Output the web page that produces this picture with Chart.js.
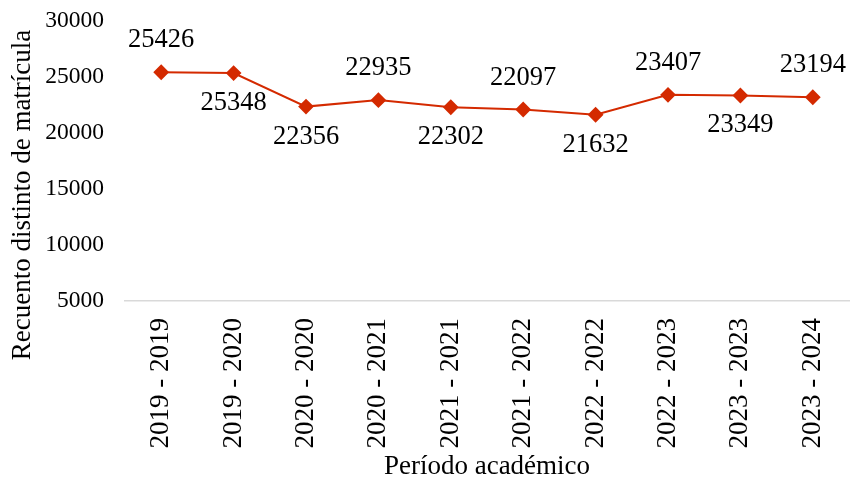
<!DOCTYPE html>
<html>
<head>
<meta charset="utf-8">
<script src="https://cdn.jsdelivr.net/npm/chart.js@4/dist/chart.umd.min.js"></script>
<style>
html,body{margin:0;padding:0;background:#fff;}
#wrap{width:850px;height:481px;position:relative;}
</style>
</head>
<body>
<div id="wrap"><canvas id="c" width="850" height="481"></canvas></div>
<script>
const categories = ["2019 - 2019","2019 - 2020","2020 - 2020","2020 - 2021","2021 - 2021","2021 - 2022","2022 - 2022","2022 - 2023","2023 - 2023","2023 - 2024"];
const values = [25426,25348,22356,22935,22302,22097,21632,23407,23349,23194];
const labelSide = ["above","below","below","above","below","above","below","above","below","above"];
const yTicks = [5000,10000,15000,20000,25000,30000];
const yTitle = "Recuento distinto de matrícula";
const xTitle = "Período académico";

const FONT = "'Liberation Serif', 'Times New Roman', serif";
const RED = "#d42a00";

const labelPlugin = {
  id: 'valueLabels',
  afterDatasetsDraw(chart) {
    const ctx = chart.ctx;
    const meta = chart.getDatasetMeta(0);
    ctx.save();
    ctx.font = "26.5px " + FONT;
    ctx.fillStyle = "#000";
    ctx.textAlign = "center";
    ctx.textBaseline = "alphabetic";
    meta.data.forEach((pt, i) => {
      const y = labelSide[i] === "above" ? pt.y - 25 : pt.y + 37;
      ctx.fillText(String(values[i]), pt.x, y);
    });
    // axis titles
    ctx.font = "27px " + FONT;
    ctx.textBaseline = "middle";
    const xs = chart.scales.x;
    ctx.fillText(xTitle, (xs.left + xs.right) / 2, 467);
    ctx.translate(23, 195);
    ctx.rotate(-Math.PI / 2);
    ctx.fillText(yTitle, 0, 0);
    ctx.restore();
  }
};

new Chart(document.getElementById('c'), {
  type: 'line',
  data: {
    labels: categories,
    datasets: [{
      data: values,
      borderColor: RED,
      backgroundColor: RED,
      borderWidth: 2,
      pointStyle: 'rectRot',
      pointRadius: 6.5,
      pointHoverRadius: 6.5,
      pointBackgroundColor: RED,
      pointBorderColor: RED,
      tension: 0,
      clip: false
    }]
  },
  options: {
    responsive: false,
    animation: false,
    events: [],
    layout: { autoPadding: false, padding: { top: 21, right: 1, left: 0, bottom: 0 } },
    plugins: { legend: { display: false }, tooltip: { enabled: false } },
    scales: {
      x: {
        offset: true,
        grid: { display: false, drawTicks: false },
        border: { display: true, color: "#d9d9d9", width: 1.5 },
        ticks: {
          color: "#000",
          font: { family: FONT, size: 27 },
          minRotation: 90, maxRotation: 90,
          padding: 17,
          autoSkip: false
        },
        afterFit(s) { s.height = 180; s.paddingLeft = 0; s.paddingRight = 0; }
      },
      y: {
        min: 5000, max: 30000,
        grid: { display: false, drawTicks: false },
        border: { display: false },
        afterBuildTicks(s) { s.ticks = yTicks.map(v => ({ value: v })); },
        ticks: {
          color: "#000",
          font: { family: FONT, size: 23.5 },
          padding: 21,
          callback: (v) => String(v)
        },
        afterFit(s) { s.width = 125; s.paddingTop = 0; s.paddingBottom = 0; }
      }
    }
  },
  plugins: [labelPlugin]
});
</script>
</body>
</html>
